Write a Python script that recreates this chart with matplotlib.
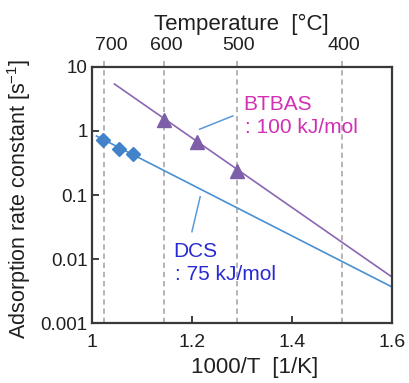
import matplotlib
matplotlib.use("Agg")
import matplotlib.pyplot as plt
from matplotlib.ticker import FixedLocator, FixedFormatter

plt.rcParams['font.family'] = ['Liberation Sans', 'DejaVu Sans']
plt.rcParams['mathtext.fontset'] = 'custom'
plt.rcParams['mathtext.rm'] = 'Liberation Sans'

# ---- data ----
dcs_x = [1.023, 1.055, 1.083]
dcs_y = [0.72, 0.515, 0.43]
btbas_x = [1.145, 1.211, 1.291]
btbas_y = [1.48, 0.68, 0.237]

dcs_fit_x = [1.009, 1.6]
dcs_fit_y = [0.83, 0.0037]
btbas_fit_x = [1.045, 1.6]
btbas_fit_y = [5.37, 0.0053]

temp_labels = ["700", "600", "500", "400"]
temp_pos = [1.025, 1.145, 1.29, 1.5]          # dashed guide lines
temp_label_pos = [1.039, 1.148, 1.294, 1.505]  # label positions as drawn

x_ticks = [1.0, 1.2, 1.4, 1.6]
x_ticklabels = ["1", "1.2", "1.4", "1.6"]
y_ticks = [0.001, 0.01, 0.1, 1, 10]
y_ticklabels = ["0.001", "0.01", "0.1", "1", "10"]

fig = plt.figure(figsize=(4.1, 3.83), dpi=100)
ax = fig.add_axes([0.2244, 0.1559, 0.9554 - 0.2244, 0.8258 - 0.1559])

ax.set_xscale('linear')
ax.set_yscale('log')
ax.set_xlim(1.0, 1.6)
ax.set_ylim(0.001, 10)

# dashed temperature lines
for p in temp_pos:
    ax.plot([p, p], [0.001, 10 * 10 ** 0.1], ls=(0, (3.5, 2.5)), color='#a0a0a0',
            lw=1.1, clip_on=False, zorder=1)

ax.plot(dcs_fit_x, dcs_fit_y, color='#4a8fd2', lw=1.2, zorder=2)
ax.plot(btbas_fit_x, btbas_fit_y, color='#8a66b2', lw=1.2, zorder=2)
ax.plot(dcs_x, dcs_y, 'D', color='#4282c8', ms=7, mec='#4282c8', zorder=3)
ax.plot(btbas_x, btbas_y, '^', color='#7d5ea8', ms=9.5, mec='#7d5ea8', zorder=3)

# pointer lines
ax.plot([1.2153, 1.282], [1.06, 1.71], color='#5a9ad8', lw=1.1)
ax.plot([1.2, 1.2166], [0.0268, 0.094], color='#5a9ad8', lw=1.1)

# annotations
ax.text(1.3026, 2.11, "BTBAS", color='#d22fb4', fontsize=15, va='baseline', ha='left')
ax.text(1.3066, 0.926, ": 100 kJ/mol", color='#d22fb4', fontsize=15, va='baseline', ha='left')
ax.text(1.1626, 0.0109, "DCS", color='#2a2ad2', fontsize=15, va='baseline', ha='left')
ax.text(1.1666, 0.00472, ": 75 kJ/mol", color='#2a2ad2', fontsize=15, va='baseline', ha='left')

ax.xaxis.set_major_locator(FixedLocator(x_ticks))
ax.xaxis.set_major_formatter(FixedFormatter(x_ticklabels))
ax.yaxis.set_major_locator(FixedLocator(y_ticks))
ax.yaxis.set_major_formatter(FixedFormatter(y_ticklabels))
ax.yaxis.set_minor_locator(FixedLocator([]))
ax.tick_params(axis='both', which='major', direction='in', length=5, width=1.3,
               color='#303030', labelsize=14, labelcolor='#202020')
ax.tick_params(axis='x', pad=8)
ax.tick_params(axis='y', pad=3, labelsize=13.5)
for s in ax.spines.values():
    s.set_linewidth(1.6)
    s.set_color('#383838')

ax.set_xlabel("1000/T  [1/K]", fontsize=16, color='#202020')
ax.xaxis.set_label_coords(0.544, -0.13)
ax.set_ylabel("Adsorption rate constant [s$^{\\mathregular{-1}}$]", fontsize=15.5,
              color='#202020')
ax.yaxis.set_label_coords(-0.196, 0.484)

top = ax.twiny()
top.set_xlim(ax.get_xlim())
top.xaxis.set_major_locator(FixedLocator(temp_label_pos))
top.xaxis.set_major_formatter(FixedFormatter(temp_labels))
top.tick_params(axis='x', length=0, pad=9, labelsize=14, labelcolor='#202020')
top.set_xlabel("Temperature  [°C]", fontsize=16, color='#202020', labelpad=5)
for s in top.spines.values():
    s.set_visible(False)

fig.savefig("out.png", dpi=100)
